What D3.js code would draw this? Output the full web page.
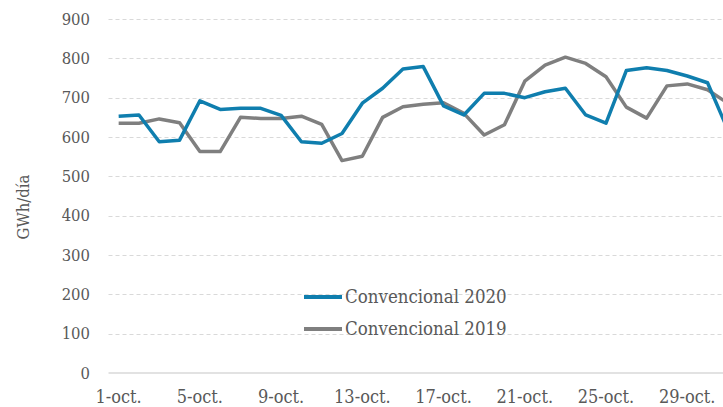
<!DOCTYPE html>
<html>
<head>
<meta charset="utf-8">
<script src="https://cdn.jsdelivr.net/npm/d3@7"></script>
<style>
	html, body { margin: 0; padding: 0; background: #fff; }
	svg { display: block; overflow: hidden; }
	text { font-family: "DejaVu Serif Condensed", "DejaVu Serif", serif; font-stretch: condensed; fill: #595959; }
</style>
</head>
<body>
<svg id="chart" width="723" height="407"></svg>
<script>
// days of october and GWh/day values
var days = d3.range(1, 32);
var tickDays = [1, 5, 9, 13, 17, 21, 25, 29];
var yTicks = [0, 100, 200, 300, 400, 500, 600, 700, 800, 900];

var conv2020 = [653, 656, 588, 592, 692, 670, 673, 673, 655, 588,
	584, 609, 686, 724, 773, 779, 679, 656, 711, 711,
	700, 715, 724, 656, 635, 769, 776, 769, 755, 738, 618];
var conv2019 = [635, 635, 646, 636, 563, 563, 650, 647, 647, 653,
	632, 540, 551, 650, 677, 683, 687, 660, 605, 631,
	742, 783, 803, 787, 753, 676, 648, 730, 735, 720, 686];

var series = [
	{name: "Convencional 2020", values: conv2020, colour: "#0f7eae"},
	{name: "Convencional 2019", values: conv2019, colour: "#7f7f7f"}
];

var svg = d3.select("#chart");

var x = d3.scalePoint()
	.domain(days)
	.range([108.5, 738])
	.padding(0.5);
var y = d3.scaleLinear()
	.domain([0, 900])
	.range([373, 19]);

//grid lines
svg.append("g").selectAll("line")
	.data(yTicks.filter(function(d) {return d > 0;}))
	.enter().append("line")
		.attr("x1", 108.5)
		.attr("x2", 723)
		.attr("y1", function(d) {return Math.round(y(d)) + 0.5;})
		.attr("y2", function(d) {return Math.round(y(d)) + 0.5;})
		.attr("stroke", "#d9d9d9")
		.attr("stroke-width", 1)
		.attr("stroke-dasharray", "4,3");

//x axis base line
svg.append("line")
	.attr("x1", 108.5)
	.attr("x2", 723)
	.attr("y1", y(0))
	.attr("y2", y(0))
	.attr("stroke", "#d9d9d9")
	.attr("stroke-width", 1.5);

//y tick labels
svg.append("g").selectAll("text")
	.data(yTicks)
	.enter().append("text")
		.attr("x", 90)
		.attr("y", function(d) {return y(d);})
		.attr("dy", "0.35em")
		.attr("text-anchor", "end")
		.style("font-size", "16.5px")
		.text(function(d) {return d;});

//x tick labels
svg.append("g").selectAll("text")
	.data(tickDays)
	.enter().append("text")
		.attr("x", function(d) {return x(d);})
		.attr("y", 403)
		.attr("text-anchor", "middle")
		.style("font-size", "18px")
		.text(function(d) {return d + "-oct.";});

//axis title
svg.append("text")
	.attr("transform", "translate(29,207) rotate(-90)")
	.attr("text-anchor", "middle")
	.style("font-size", "16.5px")
	.text("GWh/día");

var line = d3.line()
	.x(function(d, i) {return x(days[i]);})
	.y(function(d) {return y(d);});

//draw 2020 on top, as in the reference
svg.append("g").selectAll("path")
	.data(series.slice().reverse())
	.enter().append("path")
		.attr("d", function(d) {return line(d.values);})
		.attr("fill", "none")
		.attr("stroke", function(d) {return d.colour;})
		.attr("stroke-width", 3.5)
		.attr("stroke-linejoin", "round");

//legend
var legend = svg.append("g").selectAll("g")
	.data(series)
	.enter().append("g")
		.attr("transform", function(d, i) {return "translate(304," + (297 + i * 32) + ")";});
legend.append("line")
	.attr("x1", 0)
	.attr("x2", 38)
	.attr("stroke", function(d) {return d.colour;})
	.attr("stroke-width", 4);
legend.append("text")
	.attr("x", 41)
	.attr("dy", "0.35em")
	.style("font-size", "18.5px")
	.text(function(d) {return d.name;});
</script>
</body>
</html>
